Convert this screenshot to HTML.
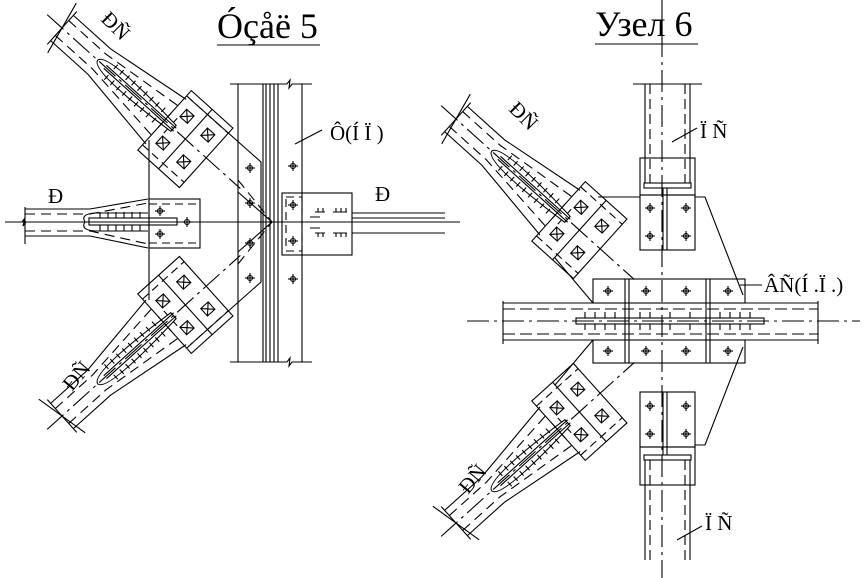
<!DOCTYPE html>
<html><head><meta charset="utf-8"><style>
html,body{margin:0;padding:0;background:#fff;}
svg{display:block;}
text{font-family:"Liberation Serif",serif;fill:#000;}
</style></head><body>
<svg width="865" height="578" viewBox="0 0 865 578" xmlns="http://www.w3.org/2000/svg">
<defs>
<g id="bolt"><line x1="-5" y1="0" x2="5" y2="0"/><line x1="0" y1="-5" x2="0" y2="5"/><circle r="2.5" fill="none"/></g>
<g id="sb"><rect x="-5" y="-5" width="10" height="10" fill="none"/><line x1="-5" y1="-5" x2="5" y2="5"/><line x1="5" y1="-5" x2="-5" y2="5"/></g>
<g id="diag" fill="none" stroke="#000" stroke-width="1.1">
  <line x1="-6" y1="-28" x2="6" y2="28"/>
  <line x1="0" y1="-22" x2="0" y2="22"/>
  <path d="M0,-17 L50,-17 L140,-30"/>
  <path d="M0,17 L50,17 L140,30"/>
  <path d="M0,-10 L50,-10 L140,-20" stroke-dasharray="10,6"/>
  <path d="M0,10 L50,10 L140,20" stroke-dasharray="10,6"/>
  <line x1="-20" y1="0" x2="240" y2="0" stroke-dasharray="22,5,3,5"/>
  <path d="M48,0 Q50,-13 150,-4 L150,4 Q50,13 48,0 Z"/>
  <path d="M58,-2 L152,-2 M58,2 L152,2"/>
  <path d="M66,-4v-6 M74,-4v-6 M82,-4v-6 M90,-4v-6 M98,-4v-6 M106,-4v-6 M114,-4v-6 M122,-4v-6 M130,-4v-6 M138,-4v-6 M146,-4v-6 M66,4v6 M74,4v6 M82,4v6 M90,4v6 M98,4v6 M106,4v6 M114,4v6 M122,4v6 M130,4v6 M138,4v6 M146,4v6"/>
  <rect x="138" y="-40" width="56" height="80"/>
  <line x1="166" y1="-40" x2="166" y2="40"/>
  <line x1="138" y1="-33" x2="194" y2="-33" stroke-dasharray="8,5"/>
  <line x1="138" y1="33" x2="194" y2="33" stroke-dasharray="8,5"/>
  <use href="#sb" x="152" y="-18"/>
  <use href="#sb" x="180" y="-18"/>
  <use href="#sb" x="180" y="18"/>
  <use href="#sb" x="152" y="18"/>
</g>
</defs>

<g stroke="#000" stroke-width="1.1" fill="none">
<line x1="217" y1="45" x2="320" y2="45"/>
<line x1="595" y1="44" x2="698" y2="44"/>

<!-- ===== NODE 5 ===== -->
<line x1="230" y1="84" x2="287" y2="84"/><path d="M287,84 l3,-4 l-1,8 l3,-4"/><line x1="292" y1="84" x2="312" y2="84"/>
<line x1="230" y1="362" x2="287" y2="362"/><path d="M287,362 l3,-4 l-1,8 l3,-4"/><line x1="292" y1="362" x2="312" y2="362"/>
<line x1="238" y1="84" x2="238" y2="362"/>
<line x1="263" y1="84" x2="263" y2="362"/>
<line x1="266" y1="84" x2="266" y2="362"/>
<line x1="270" y1="84" x2="270" y2="362"/>
<line x1="274" y1="84" x2="274" y2="362"/>
<line x1="278" y1="84" x2="278" y2="362"/>
<line x1="302" y1="84" x2="302" y2="362"/>
<line x1="149" y1="140" x2="149" y2="300"/>
<path d="M190,99 L261,162 L261,282 L190,345"/>
<path d="M238,192 L272,222 L238,252" />
<line x1="238" y1="180" x2="272" y2="222" stroke-dasharray="10,6"/>
<line x1="238" y1="264" x2="272" y2="222" stroke-dasharray="10,6"/>
<use href="#bolt" x="250" y="168"/><use href="#bolt" x="250" y="203"/><use href="#bolt" x="250" y="243"/><use href="#bolt" x="250" y="278"/>
<use href="#bolt" x="293" y="166"/><use href="#bolt" x="293" y="205"/><use href="#bolt" x="293" y="241"/><use href="#bolt" x="293" y="279"/>
<line x1="295" y1="144" x2="322" y2="130"/>
<line x1="5" y1="222" x2="460" y2="222"/>
<path d="M25,207 L25,244 M22,222 l3,-4 l-2,8 l3,-4"/>
<path d="M25,209 L90,209 L148,199"/>
<path d="M25,236 L90,236 L148,248"/>
<path d="M25,214 L90,214 L148,203" stroke-dasharray="10,6"/>
<path d="M25,231 L90,231 L148,244" stroke-dasharray="10,6"/>
<path d="M85,222 Q80,214 95,213 L148,213 M85,222 Q80,230 95,231 L148,231"/>
<rect x="89" y="218" width="88" height="7"/>
<path d="M100,218v-6 M108,218v-6 M116,218v-6 M124,218v-6 M132,218v-6 M140,218v-6 M100,225v6 M108,225v6 M116,225v6 M124,225v6 M132,225v6 M140,225v6"/>
<rect x="149" y="199" width="51" height="49"/>
<line x1="149" y1="204" x2="200" y2="204" stroke-dasharray="8,5"/>
<line x1="149" y1="243" x2="200" y2="243" stroke-dasharray="8,5"/>
<use href="#bolt" x="160" y="211"/><use href="#bolt" x="160" y="234"/><use href="#bolt" x="187" y="222"/>
<rect x="282" y="193" width="70" height="62"/>
<rect x="286" y="197" width="16" height="54" stroke-dasharray="8,5"/>
<path d="M352,213 L445,213 M352,218 L445,218 M352,233 L445,233"/>
<line x1="320" y1="222" x2="445" y2="222" stroke-dasharray="12,5"/>
<path d="M315,212 h10 M318,212v-4 M323,212v-4 M333,212h14 M336,212v-4 M341,212v-4 M346,212v-4 M315,233 h10 M318,233v4 M323,233v4 M333,233h14 M336,233v4 M341,233v4 M346,233v4"/>
<path d="M310,217h10 M310,228h10"/>

<use href="#diag" transform="translate(62,28) rotate(42)"/>
<use href="#diag" transform="translate(62,416) rotate(-42)"/>

<!-- ===== NODE 6 ===== -->
<line x1="662" y1="0" x2="662" y2="578" stroke-dasharray="22,5,3,5"/>
<line x1="467" y1="321" x2="860" y2="321" stroke-dasharray="22,5,3,5"/>
<line x1="633" y1="84" x2="702" y2="84"/>
<line x1="645" y1="84" x2="645" y2="183"/><line x1="690" y1="84" x2="690" y2="183"/>
<line x1="650" y1="84" x2="650" y2="183" stroke-dasharray="10,5"/><line x1="685" y1="84" x2="685" y2="183" stroke-dasharray="10,5"/>
<rect x="640" y="158" width="55" height="37"/>
<rect x="644" y="183" width="47" height="5"/>
<rect x="640" y="195" width="55" height="55"/>
<path d="M663,188 V250 M667,188 V250"/>
<use href="#bolt" x="650" y="208"/><use href="#bolt" x="686" y="208"/><use href="#bolt" x="650" y="236"/><use href="#bolt" x="686" y="236"/>
<line x1="672" y1="142" x2="697" y2="128"/>
<rect x="640" y="392" width="55" height="55"/>
<rect x="640" y="447" width="55" height="38"/>
<rect x="644" y="455" width="47" height="5"/>
<path d="M663,392 V455 M667,392 V455"/>
<line x1="645" y1="460" x2="645" y2="560"/><line x1="690" y1="460" x2="690" y2="560"/>
<line x1="650" y1="460" x2="650" y2="560" stroke-dasharray="10,5"/><line x1="685" y1="460" x2="685" y2="560" stroke-dasharray="10,5"/>
<use href="#bolt" x="650" y="406"/><use href="#bolt" x="686" y="406"/><use href="#bolt" x="650" y="434"/><use href="#bolt" x="686" y="434"/>
<line x1="677" y1="540" x2="702" y2="526"/>
<path d="M503,303 L818,303 M503,340 L818,340 M503,301 V344 M818,301 V344"/>
<path d="M503,309 L818,309 M503,334 L818,334" stroke-dasharray="12,5"/>
<rect x="576" y="318" width="188" height="6"/>
<rect x="593" y="279" width="152" height="24"/>
<rect x="593" y="340" width="152" height="23"/>
<path d="M625,279 V363 M629,279 V363 M706,279 V363 M710,279 V363"/>
<use href="#bolt" x="608" y="291"/><use href="#bolt" x="646" y="291"/><use href="#bolt" x="686" y="291"/><use href="#bolt" x="728" y="291"/>
<use href="#bolt" x="608" y="351"/><use href="#bolt" x="646" y="351"/><use href="#bolt" x="686" y="351"/><use href="#bolt" x="728" y="351"/>
<path d="M585,318v-6 M595,318v-6 M605,318v-6 M615,318v-6 M640,318v-6 M650,318v-6 M670,318v-6 M690,318v-6 M720,318v-6 M730,318v-6 M740,318v-6 M750,318v-6 M585,324v6 M595,324v6 M605,324v6 M615,324v6 M640,324v6 M650,324v6 M670,324v6 M690,324v6 M720,324v6 M730,324v6 M740,324v6 M750,324v6"/>
<path d="M598,197 L640,197 M695,197 L705,197 L743,295"/>
<path d="M695,445 L705,445 L743,347"/>
<path d="M593,303 L555,258 M593,340 L555,385"/>
<line x1="740" y1="285" x2="762" y2="285"/>

<use href="#diag" transform="translate(456,119) rotate(42)"/>
<use href="#diag" transform="translate(456,523) rotate(-42)"/>
</g>

<g font-size="36">
<text x="217" y="38">Óçåë 5</text>
<text x="595" y="36">Узел 6</text>
</g>
<g font-size="21">
<text x="330" y="140">Ô(Í Ï )</text>
<text x="48" y="203">Ð</text>
<text x="375" y="201">Ð</text>
<text x="700" y="138">Ï Ñ</text>
<text x="764" y="292">ÂÑ(Í .Ï .)</text>
<text x="705" y="530">Ï Ñ</text>
<text transform="translate(100,20) rotate(45)">ÐÑ</text>
<text transform="translate(508,110) rotate(45)">ÐÑ</text>
<text transform="translate(72,392) rotate(-50)">ÐÑ</text>
<text transform="translate(468,495) rotate(-50)">ÐÑ</text>
</g>
</svg>
</body></html>
